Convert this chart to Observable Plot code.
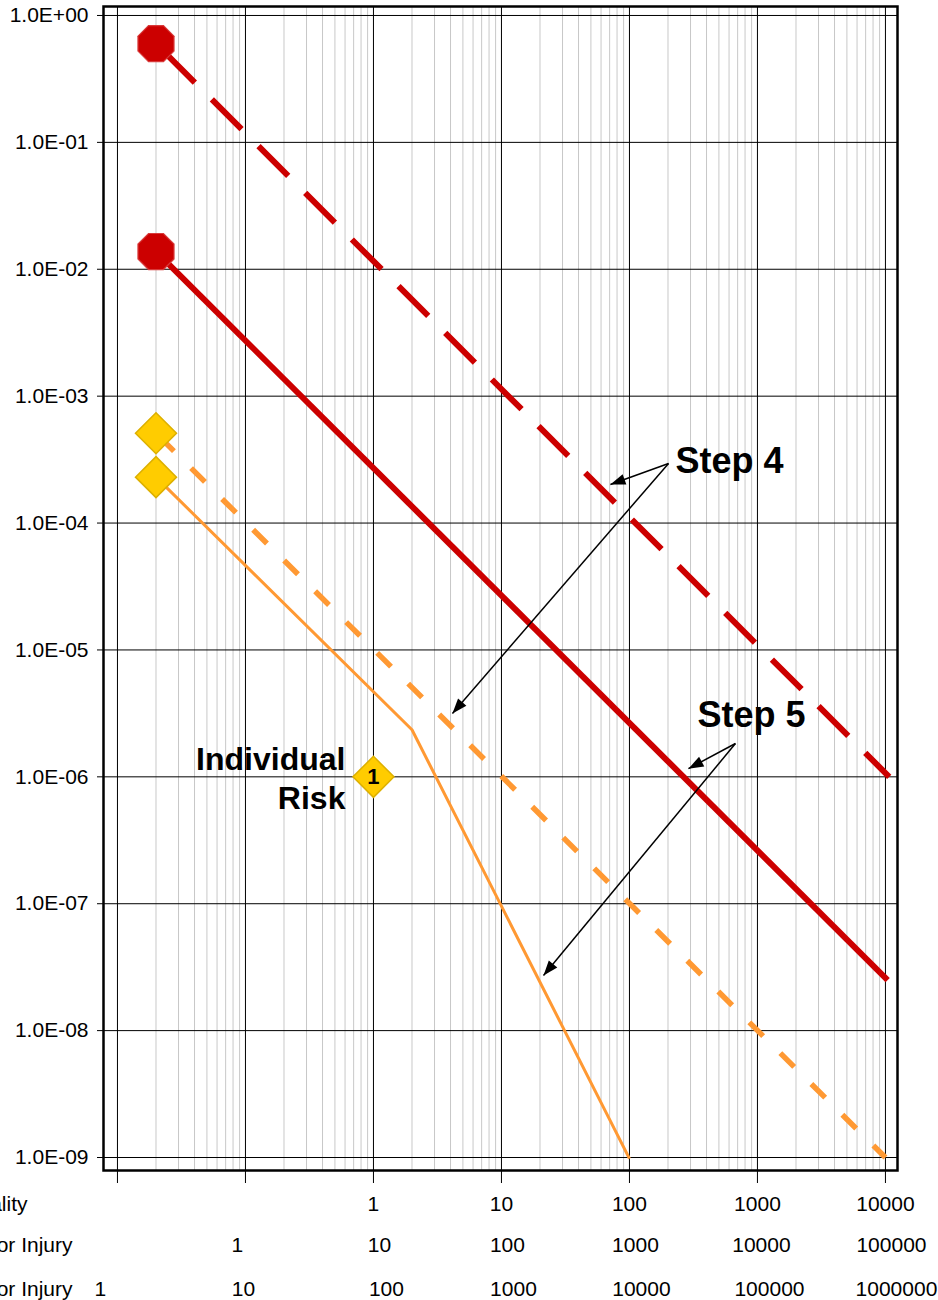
<!DOCTYPE html>
<html>
<head>
<meta charset="utf-8">
<script src="https://cdn.jsdelivr.net/npm/d3@7"></script>
<script src="https://cdn.jsdelivr.net/npm/@observablehq/plot@0.6"></script>
<style>
  html, body { margin: 0; padding: 0; background: #fff; }
  #chart svg { display: block; }
</style>
</head>
<body>
<div id="chart"></div>
<script>
// ---------- data ----------
const yTicks = [1, 1e-1, 1e-2, 1e-3, 1e-4, 1e-5, 1e-6, 1e-7, 1e-8, 1e-9];
const yTickLabels = ["1.0E+00", "1.0E-01", "1.0E-02", "1.0E-03", "1.0E-04", "1.0E-05", "1.0E-06", "1.0E-07", "1.0E-08", "1.0E-09"];
const xMajor = [0.01, 0.1, 1, 10, 100, 1000, 10000];

const rowNames = ["Fatality", "Major Injury", "Minor Injury"];
const fatalityTicks = [1, 10, 100, 1000, 10000];
const fatalityLabels = ["1", "10", "100", "1000", "10000"];
const majorTicks = [0.1, 1, 10, 100, 1000, 10000];
const majorLabels = ["1", "10", "100", "1000", "10000", "100000"];
const minorTicks = [0.01, 0.1, 1, 10, 100, 1000, 10000];
const minorLabels = ["1", "10", "100", "1000", "10000", "100000", "1000000"];

// criteria lines (N = fatalities, F = frequency)
const redDashedN = [0.02, 10700];
const redDashedF = [0.6, 1.0e-6];
const redSolidN = [0.02, 10400];
const redSolidF = [0.0138, 2.5e-8];
const orangeDashedN = [0.02, 10000];
const orangeDashedF = [5.1e-4, 1.0e-9];
const orangeSolidN = [0.02, 2, 100];
const orangeSolidF = [2.3e-4, 2.35e-6, 9.8e-10];

// markers
const octagonN = [0.02, 0.02];
const octagonF = [0.6, 0.0138];
const diamondN = [0.02, 0.02];
const diamondF = [5.1e-4, 2.3e-4];
const riskN = [1];
const riskF = [1e-6];
const riskLabel = ["1"];
const riskName = ["Individual\nRisk"];

// annotations
const stepText = ["Step 4", "Step 5"];
const stepN = [229, 340];
const stepF = [3.03e-4, 3.02e-6];
const arrowN1 = [202, 202, 673, 673];
const arrowF1 = [2.95e-4, 2.95e-4, 1.83e-6, 1.83e-6];
const arrowN2 = [71, 4.14, 289, 21.3];
const arrowF2 = [2.01e-4, 3.16e-6, 1.16e-6, 2.72e-8];

// ---------- helpers ----------
const zip = (xs, ys) => xs.map((x, i) => ({x, y: ys[i]}));
const minorX = [];
for (const d of [0.01, 0.1, 1, 10, 100, 1000]) for (let k = 2; k <= 9; k++) minorX.push(+(d * k).toPrecision(3));

const octagon = {
  draw(ctx, size) {
    const r = Math.sqrt(size / Math.PI);
    for (let i = 0; i < 8; i++) {
      const a = Math.PI / 8 + i * Math.PI / 4;
      const px = r * Math.cos(a), py = r * Math.sin(a);
      if (i) ctx.lineTo(px, py); else ctx.moveTo(px, py);
    }
    ctx.closePath();
  }
};
const diamond = {
  draw(ctx, size) {
    const r = Math.sqrt(size / Math.PI);
    ctx.moveTo(0, -r); ctx.lineTo(r, 0); ctx.lineTo(0, r); ctx.lineTo(-r, 0); ctx.closePath();
  }
};

const RED = "#CC0000", ORANGE = "#FF9933", GOLD = "#FFCC00";
const font = "'Liberation Sans', Arial, Helvetica, sans-serif";
const FS = 21;

// one text mark per label so that each label can carry its own small nudge (style only)
function bottomRow(ticks, labels, dy, nudges) {
  return ticks.map((t, i) => Plot.text([t], {
    x: d => d, text: () => labels[i], frameAnchor: "bottom",
    dy, dx: nudges[i], fontSize: FS, fill: "black", textAnchor: "middle"
  }));
}
function rowName(name, dy, dx) {
  return Plot.text([name], {
    text: d => d, frameAnchor: "bottom-left", dy, dx,
    fontSize: FS, fill: "black", textAnchor: "end"
  });
}

const plot = Plot.plot({
  width: 938,
  height: 1300,
  marginLeft: 103,
  marginRight: 41,
  marginTop: 6,
  marginBottom: 130,
  style: {fontFamily: font, fontSize: FS + "px", color: "black", background: "white"},
  x: {type: "log", domain: [0.00778, 12420], ticks: xMajor, tickSize: 13, tickFormat: () => "", label: null},
  y: {type: "log", domain: [7.9e-10, 1.177], ticks: yTicks, tickSize: 6, tickPadding: 9,
      tickFormat: d => yTickLabels[yTicks.indexOf(d)], label: null},
  marks: [
    Plot.ruleX(minorX, {stroke: "#c8c8c8", strokeWidth: 1}),
    Plot.ruleX(xMajor, {stroke: "#000", strokeWidth: 1}),
    Plot.ruleY(yTicks, {stroke: "#000", strokeWidth: 1}),

    Plot.line(zip(orangeSolidN, orangeSolidF), {x: "x", y: "y", stroke: ORANGE, strokeWidth: 3, strokeLinecap: "butt", strokeLinejoin: "miter"}),
    Plot.line(zip(orangeDashedN, orangeDashedF), {x: "x", y: "y", stroke: ORANGE, strokeWidth: 5.5, strokeDasharray: "19.5,24.2", strokeDashoffset: 37.9, strokeLinecap: "butt"}),
    Plot.line(zip(redSolidN, redSolidF), {x: "x", y: "y", stroke: RED, strokeWidth: 6, strokeLinecap: "butt"}),
    Plot.line(zip(redDashedN, redDashedF), {x: "x", y: "y", stroke: RED, strokeWidth: 6, strokeDasharray: "42,24", strokeDashoffset: 53, strokeLinecap: "butt"}),

    Plot.dot(zip(octagonN, octagonF), {x: "x", y: "y", symbol: octagon, r: 19.5, fill: RED, stroke: "#D83A3A", strokeWidth: 1.2}),
    Plot.dot(zip(diamondN, diamondF), {x: "x", y: "y", symbol: diamond, r: 20.5, fill: GOLD, stroke: "#DDB000", strokeWidth: 1.5}),
    Plot.dot(zip(riskN, riskF), {x: "x", y: "y", symbol: diamond, r: 20.5, fill: GOLD, stroke: "#DDB000", strokeWidth: 1.5}),
    Plot.text(zip(riskN, riskF), {x: "x", y: "y", text: (d, i) => riskLabel[i], fontSize: 22, fontWeight: "bold", fill: "black"}),
    Plot.text(zip(riskN, riskF), {x: "x", y: "y", text: (d, i) => riskName[i], dx: -28, textAnchor: "end",
      fontSize: 32, fontWeight: "bold", lineHeight: 1.22, fill: "black"}),

    Plot.text(zip(stepN, stepF), {x: "x", y: "y", text: (d, i) => stepText[i], textAnchor: "start",
      fontSize: 36, fontWeight: "bold", fill: "black"}),
    Plot.link(arrowN1.map((d, i) => i), {
      x1: i => arrowN1[i], y1: i => arrowF1[i], x2: i => arrowN2[i], y2: i => arrowF2[i],
      stroke: "black", strokeWidth: 1.5, markerEnd: "arrow"
    }),

    ...bottomRow(fatalityTicks, fatalityLabels, 40, [0, 0, 0, 0, 0]),
    ...bottomRow(majorTicks, majorLabels, 81, [-8, 6, 6, 6, 4, 6]),
    ...bottomRow(minorTicks, minorLabels, 125, [-17, -2, 13, 12, 12, 12, 11]),
    rowName(rowNames[0], 40, -76),
    rowName(rowNames[1], 81, -31),
    rowName(rowNames[2], 125, -31),

    Plot.frame({stroke: "black", strokeWidth: 2.5})
  ]
});

// filled arrowheads instead of open chevrons
d3.select(plot).selectAll("marker").each(function () {
  const m = d3.select(this);
  m.attr("viewBox", "-16 -7 17 14")
    .attr("markerUnits", "userSpaceOnUse")
    .attr("markerWidth", 17)
    .attr("markerHeight", 14)
    .attr("fill", "black")
    .attr("stroke", "none");
  m.selectAll("path").attr("d", "M-15,-5.5L0,0L-15,5.5Z");
});

document.getElementById("chart").appendChild(plot);
</script>
</body>
</html>
